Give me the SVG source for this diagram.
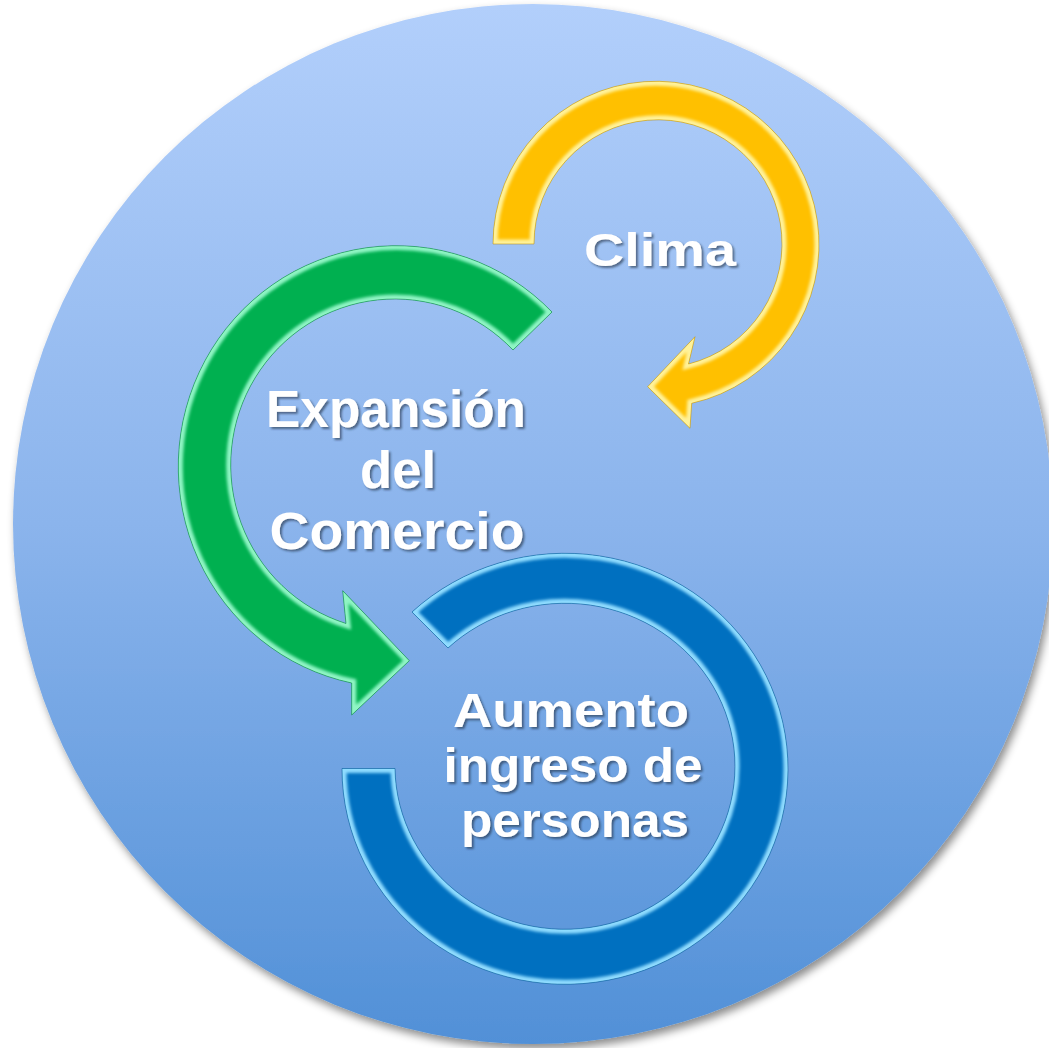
<svg xmlns="http://www.w3.org/2000/svg" width="1049" height="1048" viewBox="0 0 1049 1048">
<style>
.label{font-family:"Liberation Sans",Arial,sans-serif;font-weight:bold;fill:#ffffff;text-anchor:middle;filter:url(#tshadow)}
.glow{fill:none;stroke-width:9;filter:url(#soft);opacity:1}
.edge{fill:none;stroke-width:1;opacity:0.5}
</style>
<defs>
<linearGradient id="bg" x1="0" y1="0" x2="0" y2="1">
<stop offset="0" stop-color="#b2cffb"/>
<stop offset="0.5" stop-color="#8bb4ec"/>
<stop offset="1" stop-color="#5190d7"/>
</linearGradient>
<filter id="bgshadow" x="-10%" y="-10%" width="120%" height="120%">
<feDropShadow dx="3" dy="5" stdDeviation="4" flood-color="#000" flood-opacity="0.45"/>
</filter>
<filter id="tshadow" x="-10%" y="-20%" width="130%" height="150%">
<feDropShadow dx="2" dy="2" stdDeviation="1.2" flood-color="#1a2a40" flood-opacity="0.6"/>
</filter>
<filter id="soft" x="-10%" y="-10%" width="120%" height="120%">
<feGaussianBlur stdDeviation="1.4"/>
</filter>
<path id="p-yellow" d="M 493 244 A 163 163 0 1 1 691.7 403.3 L 690 428.3 L 647.7 386.7 L 695 336.7 L 688.5 364 A 124 124 0 1 0 534 244 Z"/>
<path id="p-green" d="M 552 312 A 218 221 0 1 0 351.7 683 L 351.7 715 L 409.3 660.7 L 342.7 590.7 L 346 623.5 A 164 166 0 1 1 513 350 Z"/>
<path id="p-blue" d="M 342 768.5 A 223 215.5 0 1 0 412 612 L 448 648 A 170 163 0 1 1 395 768.5 Z"/>
<clipPath id="c-yellow"><use href="#p-yellow"/></clipPath>
<clipPath id="c-green"><use href="#p-green"/></clipPath>
<clipPath id="c-blue"><use href="#p-blue"/></clipPath>
</defs>

<g id="background">
<circle cx="533" cy="524" r="520" fill="url(#bg)" filter="url(#bgshadow)"/>
</g>

<g id="node-aumento">
<use href="#p-blue" fill="#0070c0"/>
<use href="#p-blue" class="glow" stroke="#8fdcff" clip-path="url(#c-blue)"/>
<use href="#p-blue" class="edge" stroke="#00508c"/>
<text class="label" x="571" y="727" font-size="49" textLength="236" lengthAdjust="spacingAndGlyphs">Aumento</text>
<text class="label" x="573" y="782" font-size="49" textLength="259" lengthAdjust="spacingAndGlyphs">ingreso de</text>
<text class="label" x="575" y="837" font-size="49" textLength="228" lengthAdjust="spacingAndGlyphs">personas</text>
</g>

<g id="node-expansion">
<use href="#p-green" fill="#00b050"/>
<use href="#p-green" class="glow" stroke="#8ff5c4" clip-path="url(#c-green)"/>
<use href="#p-green" class="edge" stroke="#007a38"/>
<text class="label" x="396" y="427" font-size="51" textLength="260" lengthAdjust="spacingAndGlyphs">Expansión</text>
<text class="label" x="398" y="488" font-size="51" textLength="76" lengthAdjust="spacingAndGlyphs">del</text>
<text class="label" x="397" y="549" font-size="51" textLength="255" lengthAdjust="spacingAndGlyphs">Comercio</text>
</g>

<g id="node-clima">
<use href="#p-yellow" fill="#ffc000"/>
<use href="#p-yellow" class="glow" stroke="#fff29a" clip-path="url(#c-yellow)"/>
<use href="#p-yellow" class="edge" stroke="#b88a00"/>
<text class="label" x="660" y="266" font-size="47" textLength="152" lengthAdjust="spacingAndGlyphs">Clima</text>
</g>

<g id="connectors"/>
</svg>
